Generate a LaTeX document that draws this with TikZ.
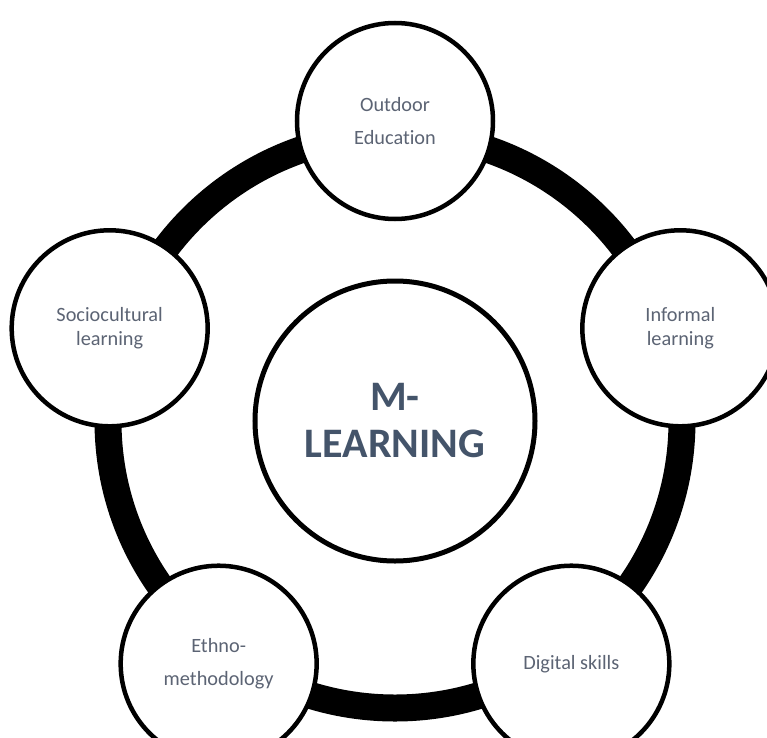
\documentclass[tikz,border=0pt]{standalone}
\usepackage{fontspec}
\setmainfont[Ligatures=NoCommon]{Carlito}
\usepackage{color}
\definecolor{mytextgray}{RGB}{92,100,116}
\definecolor{myslate}{RGB}{68,84,106}
\usepackage{tikz}
\usetikzlibrary{positioning}
\tikzstyle{topic}=[draw,fill=white,circle,line width=4.5pt,minimum size=196pt,inner sep=0pt,align=center,text=mytextgray,font=\fontsize{20.3}{24.5}\selectfont]
\tikzstyle{widetopic}=[topic,font=\fontsize{20.3}{33}\selectfont]
\tikzstyle{hub}=[draw,fill=white,circle,line width=5pt,minimum size=280pt,inner sep=0pt,align=center,text=myslate,font=\fontsize{42}{47}\selectfont\bfseries]

\begin{document}
\begin{tikzpicture}[x=1pt,y=1pt]
\useasboundingbox (-395,-316) rectangle (372,421);
\clip (-395,-316) rectangle (372,421);
% ring behind the topics
\draw [line width=27pt] (0,0) circle (287pt);
\node [hub] (mlearning) at (0,0) {M-\\LEARNING};
\node [widetopic] (outdoor) at (90:300) {Outdoor\\Education};
\node [topic] (informal) at (18:300) {Informal\\learning};
\node [topic] (digital) at (-54:300) {Digital skills};
\node [widetopic] (ethno) at (-126:300) {Ethno-\\methodology};
\node [topic] (sociocultural) at (162:300) {Sociocultural\\learning};
\end{tikzpicture}
\end{document}
